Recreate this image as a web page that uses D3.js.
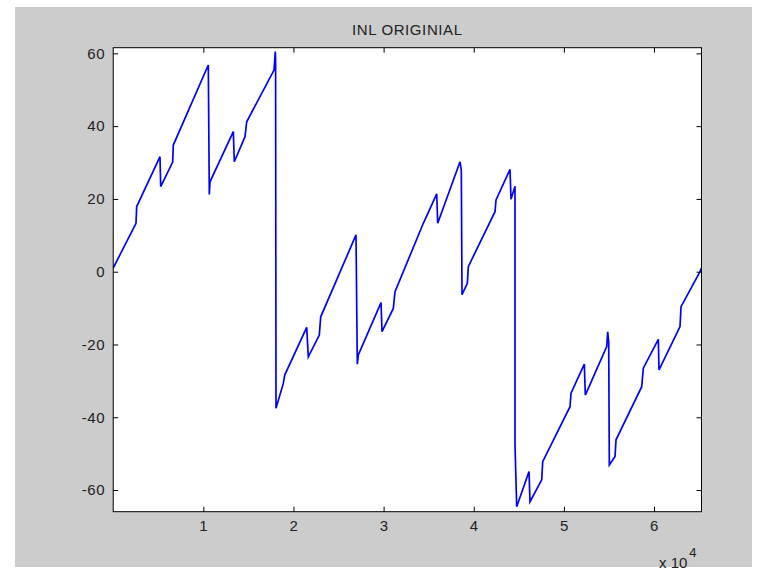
<!DOCTYPE html>
<html>
<head>
<meta charset="utf-8">
<script src="https://cdn.jsdelivr.net/npm/d3@7"></script>
<style>
  html, body { margin: 0; padding: 0; background: #ffffff; }
  svg { display: block; font-family: Arial, "Liberation Sans", Helvetica, sans-serif; }
</style>
</head>
<body>
<svg id="chart" width="769" height="571"></svg>
<script>
// ---- data ----
const title = "INL ORIGINIAL";
const codeIndex = [0, 2530, 2607, 5192, 5270, 6601, 6668, 10551, 10662, 10740,
  13325, 13436, 14623, 14812, 17841, 17985, 18018, 18063, 18873, 19028,
  21469, 21647, 22867, 23023, 26939, 27083, 27194, 29713, 29824, 31077,
  31266, 34406, 35893, 36004, 38478, 38622, 38700, 39288, 39399, 42361,
  42472, 44025, 44136, 44580, 44580, 44768, 46133, 46244, 47542, 47653,
  50682, 50793, 52269, 52380, 54754, 54865, 54976, 55043, 55675, 55786,
  58637, 58815, 60479, 60557, 62887, 62998, 65106, 65270];
const inlValue = [1.0, 13.3, 17.9, 31.6, 23.4, 30.1, 34.8, 56.8, 21.2, 24.7,
  38.5, 30.2, 37.1, 41.2, 55.4, 60.5, 58.2, -37.5, -30.7, -28.4,
  -15.3, -23.4, -17.4, -12.4, 10.1, -25.4, -22.9, -8.5, -16.5, -10.1,
  -5.5, 13.3, 21.4, 13.3, 30.2, 27.9, -6.3, -3.2, 1.4, 16.5,
  19.7, 28.1, 19.9, 23.5, -47.6, -64.6, -54.9, -63.2, -57.2, -52.2,
  -37.1, -33.4, -25.4, -33.9, -20.6, -16.5, -19.3, -53.1, -50.8, -46.2,
  -31.6, -26.5, -18.6, -27.0, -15.1, -9.6, 0.0, 1.0];
const xTicks = [10000, 20000, 30000, 40000, 50000, 60000];
const xTickLabels = ["1", "2", "3", "4", "5", "6"];
const yTicks = [-60, -40, -20, 0, 20, 40, 60];
const yTickLabels = ["-60", "-40", "-20", "0", "20", "40", "60"];
const xDomain = [0, 65270];
const yDomain = [-65.95, 61.55];

// ---- layout ----
const svg = d3.select("#chart");
const L = 113.2, R = 701.5, T = 47.7, B = 511.7;
const font = "Arial, 'Liberation Sans', sans-serif";

svg.append("rect").attr("x", 15).attr("y", 7).attr("width", 737).attr("height", 560)
  .attr("fill", "#cccccc");

const x = d3.scaleLinear().domain(xDomain).range([L, R]);
const y = d3.scaleLinear().domain(yDomain).range([B, T]);

svg.append("rect").attr("x", L).attr("y", T).attr("width", R - L).attr("height", B - T)
  .attr("fill", "#ffffff");

const data = codeIndex.map((c, i) => ({ c, v: inlValue[i] }));
const line = d3.line().x(d => x(d.c)).y(d => y(d.v));

svg.append("clipPath").attr("id", "clip").append("rect")
  .attr("x", L).attr("y", T).attr("width", R - L).attr("height", B - T);

svg.append("path").datum(data)
  .attr("d", line)
  .attr("fill", "none")
  .attr("stroke", "#0000ff")
  .attr("stroke-width", 1.7)
  .attr("stroke-linejoin", "miter")
  .attr("clip-path", "url(#clip)");

// axes (MATLAB style: ticks inside, on all four sides)
const tl = 5;
const fmtX = (d, i) => xTickLabels[i];
const fmtY = (d, i) => yTickLabels[i];
const gB = svg.append("g").attr("transform", `translate(0,${B})`)
  .call(d3.axisBottom(x).tickValues(xTicks).tickFormat(fmtX).tickSizeInner(-tl).tickSizeOuter(0).tickPadding(9));
const gT = svg.append("g").attr("transform", `translate(0,${T})`)
  .call(d3.axisTop(x).tickValues(xTicks).tickFormat("").tickSizeInner(-tl).tickSizeOuter(0));
const gL = svg.append("g").attr("transform", `translate(${L},0)`)
  .call(d3.axisLeft(y).tickValues(yTicks).tickFormat(fmtY).tickSizeInner(-tl).tickSizeOuter(0).tickPadding(8));
const gR = svg.append("g").attr("transform", `translate(${R},0)`)
  .call(d3.axisRight(y).tickValues(yTicks).tickFormat("").tickSizeInner(-tl).tickSizeOuter(0));

[gB, gT, gL, gR].forEach(g => {
  g.selectAll(".domain").remove();
  g.selectAll("line").attr("stroke", "#000").attr("stroke-width", 1);
  g.selectAll("text").attr("fill", "#222").style("font-size", "15px")
    .style("letter-spacing", "0.6px").style("font-family", font);
});

svg.append("rect").attr("x", L).attr("y", T).attr("width", R - L).attr("height", B - T)
  .attr("fill", "none").attr("stroke", "#000").attr("stroke-width", 1);

// title
svg.append("text").attr("x", (L + R) / 2).attr("y", 35).attr("text-anchor", "middle")
  .style("font-size", "15px").style("letter-spacing", "0.6px").style("font-family", font)
  .attr("fill", "#222").text(title);

// exponent label
const ex = svg.append("text").attr("x", 659).attr("y", 568).style("font-size", "15px")
  .style("font-family", font).attr("fill", "#222");
ex.append("tspan").text("x 10");
ex.append("tspan").attr("dx", 2).attr("dy", -11).style("font-size", "13px").text("4");
</script>
</body>
</html>
